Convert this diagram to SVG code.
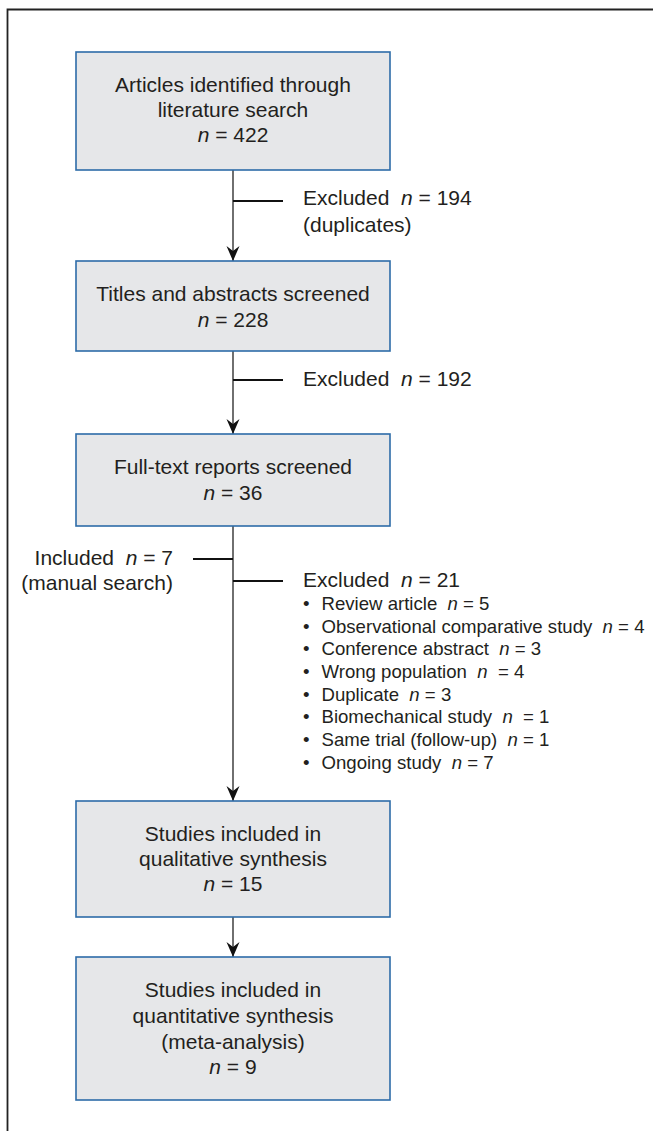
<svg xmlns="http://www.w3.org/2000/svg" width="653" height="1131" viewBox="0 0 653 1131">
<defs>
<style>
text{font-family:"Liberation Sans",Arial,sans-serif;fill:#231f20}
.bt{font-size:21px;text-anchor:middle}
.lb{font-size:21px}
.bl{font-size:18.6px}
.i{font-style:italic}
.box{fill:#e6e7e9;stroke:#2d6ca8;stroke-width:1.6}
.v{stroke:#333;stroke-width:1.4;fill:none}
.h{stroke:#111;stroke-width:2;fill:none}
</style>
<marker id="ah" viewBox="0 0 16 14" refX="16" refY="7" markerWidth="16" markerHeight="14" orient="auto" markerUnits="userSpaceOnUse">
<path d="M16,7 L1,0.5 L6,7 L1,13.5 Z" fill="#111"/>
</marker>
</defs>
<rect width="653" height="1131" fill="#fff"/>
<path d="M7.5,1131 V9.5 H653" fill="none" stroke="#222" stroke-width="1.8"/>

<g id="connectors">
<path class="v" d="M233,170 V261" marker-end="url(#ah)"/>
<path class="v" d="M233,351 V434" marker-end="url(#ah)"/>
<path class="v" d="M233,526 V801" marker-end="url(#ah)"/>
<path class="v" d="M233,917 V957" marker-end="url(#ah)"/>
<path class="h" d="M233,201 H283"/>
<path class="h" d="M233,380 H283"/>
<path class="h" d="M193,559 H233"/>
<path class="h" d="M233,581 H283"/>
</g>

<g id="n1">
<rect class="box" x="76" y="52" width="314" height="118"/>
<text class="bt" x="233" y="92">Articles identified through</text>
<text class="bt" x="233" y="117">literature search</text>
<text class="bt" x="233" y="142"><tspan class="i">n</tspan> = 422</text>
</g>

<g id="ex1">
<text class="lb" x="303" y="205" xml:space="preserve">Excluded  <tspan class="i">n</tspan> = 194</text>
<text class="lb" x="303" y="231.5">(duplicates)</text>
</g>

<g id="n2">
<rect class="box" x="76" y="261" width="314" height="90"/>
<text class="bt" x="233" y="301">Titles and abstracts screened</text>
<text class="bt" x="233" y="327"><tspan class="i">n</tspan> = 228</text>
</g>

<g id="ex2">
<text class="lb" x="303" y="385.5" xml:space="preserve">Excluded  <tspan class="i">n</tspan> = 192</text>
</g>

<g id="n3">
<rect class="box" x="76" y="434" width="314" height="92"/>
<text class="bt" x="233" y="474">Full-text reports screened</text>
<text class="bt" x="233" y="499.5"><tspan class="i">n</tspan> = 36</text>
</g>

<g id="inc">
<text class="lb" x="173" y="565" text-anchor="end" xml:space="preserve">Included  <tspan class="i">n</tspan> = 7</text>
<text class="lb" x="173" y="590" text-anchor="end">(manual search)</text>
</g>

<g id="ex3">
<text class="lb" x="303" y="587" xml:space="preserve">Excluded  <tspan class="i">n</tspan> = 21</text>
<g class="bl">
<text class="bl" x="303" y="610">•</text><text class="bl" x="321.5" y="610" xml:space="preserve">Review article  <tspan class="i">n</tspan> = 5</text>
<text class="bl" x="303" y="632.7">•</text><text class="bl" x="321.5" y="632.7" xml:space="preserve">Observational comparative study  <tspan class="i">n</tspan> = 4</text>
<text class="bl" x="303" y="655.4">•</text><text class="bl" x="321.5" y="655.4" xml:space="preserve">Conference abstract  <tspan class="i">n</tspan> = 3</text>
<text class="bl" x="303" y="678">•</text><text class="bl" x="321.5" y="678" xml:space="preserve">Wrong population  <tspan class="i">n</tspan>  = 4</text>
<text class="bl" x="303" y="700.7">•</text><text class="bl" x="321.5" y="700.7" xml:space="preserve">Duplicate  <tspan class="i">n</tspan> = 3</text>
<text class="bl" x="303" y="723.3">•</text><text class="bl" x="321.5" y="723.3" xml:space="preserve">Biomechanical study  <tspan class="i">n</tspan>  = 1</text>
<text class="bl" x="303" y="746">•</text><text class="bl" x="321.5" y="746" xml:space="preserve">Same trial (follow-up)  <tspan class="i">n</tspan> = 1</text>
<text class="bl" x="303" y="768.5">•</text><text class="bl" x="321.5" y="768.5" xml:space="preserve">Ongoing study  <tspan class="i">n</tspan> = 7</text>
</g>
</g>

<g id="n4">
<rect class="box" x="76" y="801" width="314" height="116"/>
<text class="bt" x="233" y="841">Studies included in</text>
<text class="bt" x="233" y="866">qualitative synthesis</text>
<text class="bt" x="233" y="891"><tspan class="i">n</tspan> = 15</text>
</g>

<g id="n5">
<rect class="box" x="76" y="957" width="314" height="143"/>
<text class="bt" x="233" y="997">Studies included in</text>
<text class="bt" x="233" y="1023">quantitative synthesis</text>
<text class="bt" x="233" y="1048.5">(meta-analysis)</text>
<text class="bt" x="233" y="1073.5"><tspan class="i">n</tspan> = 9</text>
</g>
</svg>
